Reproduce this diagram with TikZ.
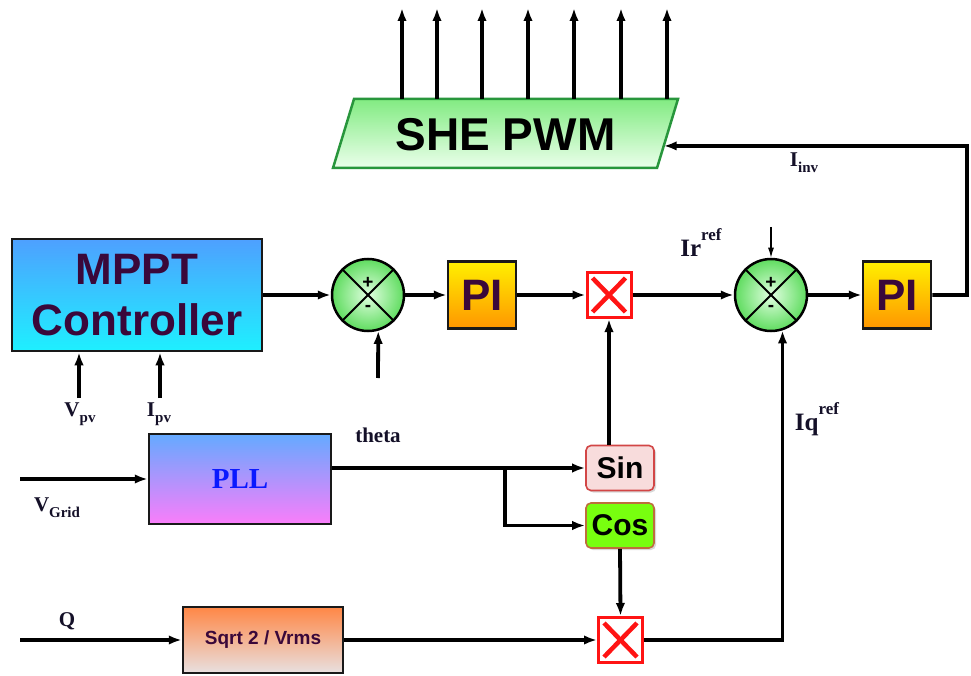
\documentclass[tikz,border=0pt]{standalone}
\usepackage{fontspec}
\setmainfont{Liberation Serif}
\setsansfont{Liberation Sans}
\usetikzlibrary{arrows.meta,shadows,calc}
\newcommand\myfs[2]{\fontsize{#1}{#2}\selectfont}
\newcommand\lsub[1]{\raisebox{-6pt}{\myfs{15}{15}#1}}
\newcommand\lsup[1]{\raisebox{16pt}{\myfs{17}{17}#1}}
\definecolor{txtpurple}{RGB}{58,8,58}
\definecolor{labcol}{RGB}{20,16,40}
\definecolor{mpptTop}{RGB}{78,160,255}
\definecolor{mpptBot}{RGB}{30,240,255}
\definecolor{piTop}{RGB}{255,240,0}
\definecolor{piBot}{RGB}{255,150,0}
\definecolor{sumIn}{RGB}{225,255,225}
\definecolor{sumOut}{RGB}{95,220,95}
\definecolor{pwmTop}{RGB}{130,235,130}
\definecolor{pwmBot}{RGB}{235,255,235}
\definecolor{pwmBorder}{RGB}{40,150,60}
\definecolor{pllTop}{RGB}{100,170,255}
\definecolor{pllBot}{RGB}{250,125,250}
\definecolor{pllText}{RGB}{10,25,255}
\definecolor{sqTop}{RGB}{255,135,70}
\definecolor{sqBot}{RGB}{232,224,224}
\definecolor{sinFill}{RGB}{248,220,220}
\definecolor{sinBorder}{RGB}{210,70,70}
\definecolor{cosFill}{RGB}{120,255,15}
\definecolor{cosBorder}{RGB}{190,110,60}
\definecolor{multRed}{RGB}{255,20,20}
\begin{document}
\begin{tikzpicture}[x=1pt,y=-1pt,
  arr/.style={line width=3.8pt,-{Latex[length=13pt,width=9.5pt]}},
  thinarr/.style={line width=1.2pt,-{Latex[length=10pt,width=6pt]}},
  blk/.style={draw=black!90,line width=2.5pt,inner sep=0pt,font=\sffamily\bfseries},
  pibox/.style={blk,top color=piTop,bottom color=piBot,minimum width=68pt,minimum height=67pt,text=txtpurple,font=\sffamily\bfseries\myfs{44}{44}},
  sumnode/.style={circle,draw=black,line width=2.5pt,minimum size=72pt,inner sep=0pt,inner color=sumIn,outer color=sumOut},
  sumx/.style={line width=2pt},
  pm/.style={font=\sffamily\bfseries\myfs{19}{19},inner sep=0pt},
  multbox/.style={draw=multRed,line width=3pt,fill=white,minimum width=44pt,minimum height=45pt,inner sep=0pt},
  multx/.style={draw=multRed,line width=4.5pt},
  trig/.style={rounded corners=5pt,line width=1.6pt,minimum width=68pt,minimum height=45pt,inner sep=0pt,font=\sffamily\bfseries\myfs{30}{30},drop shadow={opacity=0.3,shadow xshift=2pt,shadow yshift=-2pt}},
  lab/.style={font=\bfseries\myfs{21}{21},text=labcol,inner sep=0pt},
  biglab/.style={font=\bfseries\myfs{25}{25},text=labcol,inner sep=0pt}
]
\fill[white] (0,0) rectangle (971,676);
\useasboundingbox (0,0) rectangle (971,676);

% ---------- blocks ----------
\node[blk,top color=mpptTop,bottom color=mpptBot,minimum width=250pt,minimum height=112pt,text=txtpurple,align=center,font=\sffamily\bfseries\myfs{44}{51}] (mppt) at (137,295) {MPPT\\Controller};
\node[sumnode] (sum1) at (368,295) {};
\node[pibox] (pi1) at (482,295) {PI};
\node[multbox] (mult1) at (609,295) {};
\node[sumnode] (sum2) at (771,295) {};
\node[pibox] (pi2) at (897,295) {PI};

\node[blk,top color=pllTop,bottom color=pllBot,minimum width=182pt,minimum height=90pt,text=pllText,font=\rmfamily\bfseries\myfs{29}{29}] (pll) at (240,479) {PLL};
\node[trig,draw=sinBorder,fill=sinFill] (sin) at (620,468) {Sin};
\node[trig,draw=cosBorder,fill=cosFill] (cos) at (620,525.5) {Cos};
\node[multbox] (mult2) at (620.5,640) {};
\node[blk,top color=sqTop,bottom color=sqBot,minimum width=160pt,minimum height=66pt,text=txtpurple,font=\sffamily\bfseries\myfs{19}{19}] (sqrt) at (263,640) {Sqrt 2 / Vrms};

% sum decorations
\foreach \s in {sum1,sum2}{
  \draw[sumx] (\s.north west) -- (\s.south east);
  \draw[sumx] (\s.north east) -- (\s.south west);
  \node[pm] (\s plus) at ([yshift=12pt]\s.center) {+};
  \node[pm] (\s minus) at ([yshift=-13pt]\s.center) {-};
}
% multiplier crosses
\foreach \m in {mult1,mult2}{
  \draw[multx] ([shift={(7,7)}]\m.north west) -- ([shift={(-7,-7)}]\m.south east);
  \draw[multx] ([shift={(-7,7)}]\m.north east) -- ([shift={(7,-7)}]\m.south west);
}

% SHE PWM parallelogram
\coordinate (pbl) at (333,168);
\coordinate (pbr) at (657,168);
\coordinate (ptr) at (678,99);
\coordinate (ptl) at (354,99);
\path[draw=pwmBorder,line width=2.5pt,top color=pwmTop,bottom color=pwmBot] (pbl) -- (pbr) -- (ptr) -- (ptl) -- cycle;
\node[font=\sffamily\bfseries\myfs{46}{46},inner sep=0pt] (pwm) at (505.5,135) {SHE PWM};
\coordinate (pwmR) at ($(ptr)!0.68!(pbr)$);

% ---------- connectors ----------
\draw[arr] (mppt.east) -- (sum1.west);
\coordinate (in1) at (378,378);
\draw[arr] (in1) -- (sum1.-74);
\draw[arr] (sum1.east) -- (pi1.west);
\draw[arr] (pi1.east) -- (mult1.west);
\draw[arr] (mult1.east) -- (sum2.west);
\coordinate (in2) at (771,227);
\draw[thinarr] (in2) -- (sum2.north);
\draw[arr] (sum2.east) -- (pi2.west);
\coordinate (fb) at (967,146);
\draw[arr] (pi2.east) -| (fb) -- (pwmR);

\foreach \x [count=\i] in {402,437,482,528,574,621,667}{
  \coordinate (pb\i) at (\x,99);
  \coordinate (po\i) at (\x,8);
  \draw[arr] (pb\i) -- (po\i);
}

\coordinate (vpv) at (79,398);
\coordinate (ipv) at (160,398);
\draw[arr] (vpv) -- (vpv |- mppt.south);
\draw[arr] (ipv) -- (ipv |- mppt.south);

\coordinate (vg) at (20,479);
\draw[arr] (vg) -- (pll.west);
\draw[arr] (pll.east |- sin.west) -- (sin.west);
\coordinate (jn) at (505,468);
\draw[arr] (jn) |- (cos.west);
\draw[arr] (sin.north -| mult1.south) -- (mult1.south);
\draw[arr] (cos.south) -- (mult2.north);

\coordinate (qin) at (20,640);
\draw[arr] (qin) -- (sqrt.west);
\draw[arr] (sqrt.east) -- (mult2.west);
\draw[arr] (mult2.east) -| (sum2.-72);

% ---------- labels ----------
\node[lab] (lvpv) at (80,414) {V\lsub{pv}};
\node[lab] (lipv) at (159,414) {I\lsub{pv}};
\node[lab] (ltheta) at (378,435) {theta};
\node[lab] (lvg) at (57,508) {V\lsub{Grid}};
\node[lab] (lq) at (67,621) {Q};
\node[biglab] (lir) at (701,243) {Ir\lsup{ref}};
\node[biglab] (liq) at (817,419) {Iq\lsup{ref}};
\node[lab] (linv) at (804,163) {I\lsub{inv}};
\end{tikzpicture}
\end{document}
